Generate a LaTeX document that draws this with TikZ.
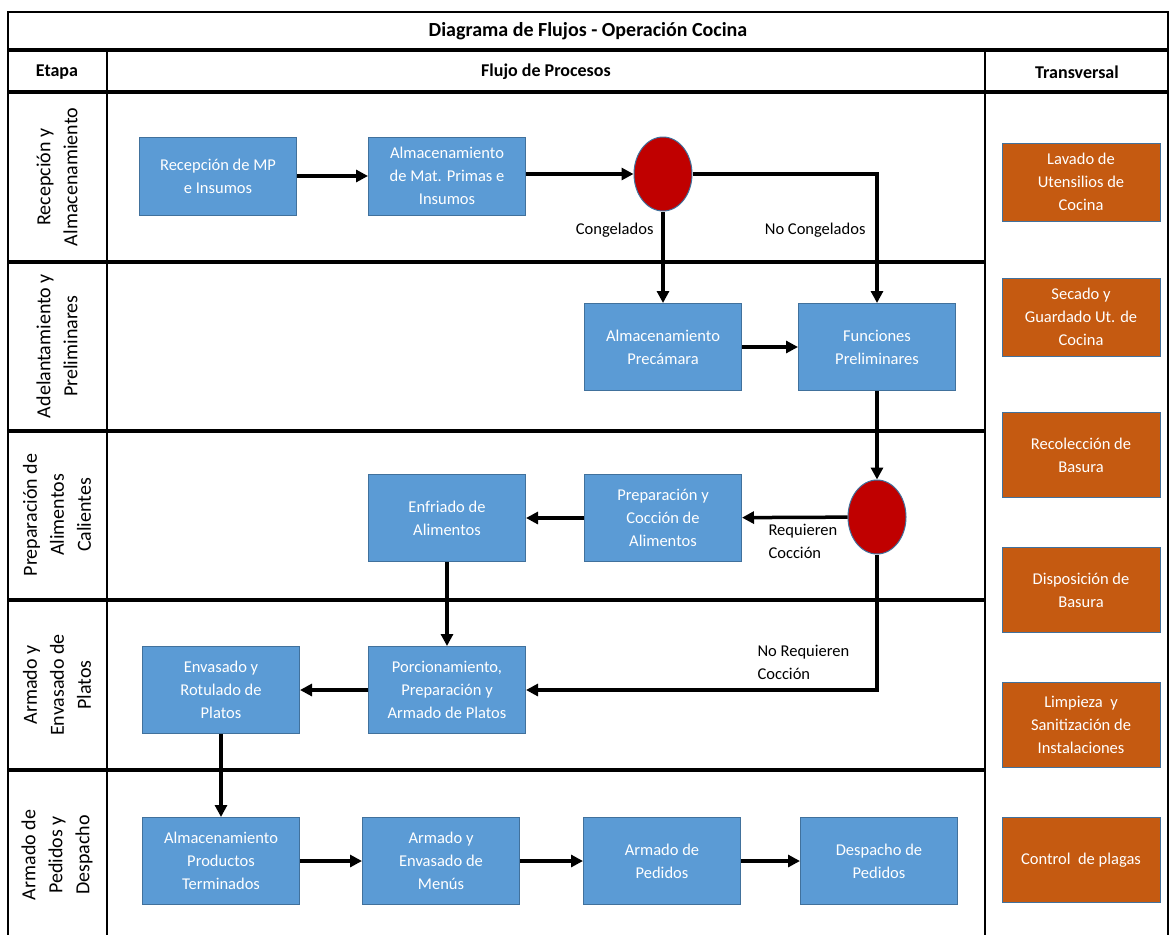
\documentclass[tikz,border=0pt]{standalone}
\usepackage{fontspec}
\setmainfont{Carlito}
\usetikzlibrary{arrows.meta,shapes.geometric}
\definecolor{boxblue}{HTML}{5B9BD5}
\definecolor{edgeblue}{HTML}{41719C}
\definecolor{boxorange}{HTML}{C55A11}
\definecolor{decred}{HTML}{C00000}
\begin{document}
\begin{tikzpicture}[x=1pt,y=-1pt,
  proc/.style={draw=edgeblue,line width=1pt,fill=boxblue,text=white,minimum width=157pt,minimum height=87pt,align=center,font=\fontsize{16.5}{23}\selectfont,inner sep=2pt},
  trans/.style={draw=edgeblue,line width=1pt,fill=boxorange,text=white,minimum width=158pt,minimum height=85pt,align=center,font=\fontsize{16.5}{23}\selectfont,inner sep=2pt},
  dec/.style={ellipse,draw=edgeblue,line width=1pt,fill=decred,minimum width=58pt,minimum height=74pt,inner sep=0pt},
  flow/.style={line width=3.5pt,-{Triangle[length=12pt,width=12pt]}},
  thickrule/.style={line width=3.5pt},
  thinrule/.style={line width=2pt},
  lanelbl/.style={rotate=90,align=center,font=\fontsize{20}{27}\selectfont},
  hdr/.style={font=\bfseries\fontsize{18}{22}\selectfont},
  elbl/.style={align=left,font=\fontsize{16.5}{23}\selectfont}]
\useasboundingbox (0,0) rectangle (1170,935);
% frame
\draw[thinrule] (8,12) -- (1168,12);
\draw[thinrule] (8,11) -- (8,935);
\draw[thinrule] (1168,11) -- (1168,935);
\draw[thickrule] (8,50) -- (1168,50);
\draw[thickrule] (8,92) -- (1168,92);
\draw[thinrule] (107,50) -- (107,935);
\draw[thinrule] (985,50) -- (985,935);
\foreach \yy in {262,431,600,770} \draw[thickrule] (8,\yy) -- (985,\yy);
% headers
\node[font=\bfseries\fontsize{20}{24}\selectfont] (title) at (588,31) {Diagrama de Flujos - Operación Cocina};
\node[hdr] (hetapa) at (57,72) {Etapa};
\node[hdr] (hflujo) at (546,72) {Flujo de Procesos};
\node[hdr] (htrans) at (1077,72) {Transversal};
% lanes
\node[lanelbl] (l1) at (57,177) {Recepción y\\Almacenamiento};
\node[lanelbl] (l2) at (57,346) {Adelantamiento y\\Preliminares};
\node[lanelbl] (l3) at (57,515) {Preparación de\\Alimentos\\Calientes};
\node[lanelbl] (l4) at (57,685) {Armado y\\Envasado de\\Platos};
\node[lanelbl] (l5) at (57,855) {Armado de\\Pedidos y\\Despacho};
% process boxes
\node[proc,minimum height=78pt] (recep) at (218,176) {Recepción de MP\\e Insumos};
\node[proc,minimum height=78pt] (almmp) at (447,176) {Almacenamiento\\de Mat. Primas e\\Insumos};
\node[dec] (c1) at (663,174) {};
\node[proc] (precam) at (663,347) {Almacenamiento\\Precámara};
\node[proc] (func) at (877,347) {Funciones\\Preliminares};
\node[dec] (c2) at (877,517) {};
\node[proc] (prep) at (663,518) {Preparación y\\Cocción de\\Alimentos};
\node[proc] (enfr) at (447,518) {Enfriado de\\Alimentos};
\node[proc] (porc) at (447,690) {Porcionamiento,\\Preparación y\\Armado de Platos};
\node[proc] (envas) at (221,690) {Envasado y\\Rotulado de\\Platos};
\node[proc] (apt) at (221,861) {Almacenamiento\\Productos\\Terminados};
\node[proc] (amenu) at (441,861) {Armado y\\Envasado de\\Menús};
\node[proc] (aped) at (662,861) {Armado de\\Pedidos};
\node[proc] (desp) at (879,861) {Despacho de\\Pedidos};
% transversal boxes
\node[trans,minimum height=78pt] (t1) at (1081,182) {Lavado de\\Utensilios de\\Cocina};
\node[trans,minimum height=78pt] (t2) at (1081,317) {Secado y\\Guardado Ut. de\\Cocina};
\node[trans] (t3) at (1081,455) {Recolección de\\Basura};
\node[trans] (t4) at (1081,590) {Disposición de\\Basura};
\node[trans] (t5) at (1081,725) {Limpieza\ \ y\\Sanitización de\\Instalaciones};
\node[trans] (t6) at (1081,860) {Control\ \ de plagas};
% connectors
\draw[flow] (recep) -- (almmp);
\draw[flow] (almmp.east |- c1) -- (c1);
\draw[flow] (c1.south) -- (precam.north);
\draw[flow] (c1.east) -| (func.north);
\draw[flow] (precam) -- (func);
\draw[flow] (func.south) -- (c2.north);
\draw[flow] (c2) -- (prep);
\draw[flow] (prep) -- (enfr);
\draw[flow] (enfr.south) -- (porc.north);
\draw[flow] (c2.south) |- (porc.east);
\draw[flow] (porc) -- (envas);
\draw[flow] (envas.south) -- (apt.north);
\draw[flow] (apt) -- (amenu);
\draw[flow] (amenu) -- (aped);
\draw[flow] (aped) -- (desp);
% edge labels
\node[elbl,anchor=east] (lcong) at (657,230) {Congelados};
\node[elbl,anchor=east] (lnocong) at (869,230) {No Congelados};
\node[elbl,anchor=west] (lreq) at (765,541) {Requieren\\Cocción};
\node[elbl,anchor=west] (lnoreq) at (754,662) {No Requieren\\Cocción};
\end{tikzpicture}
\end{document}
